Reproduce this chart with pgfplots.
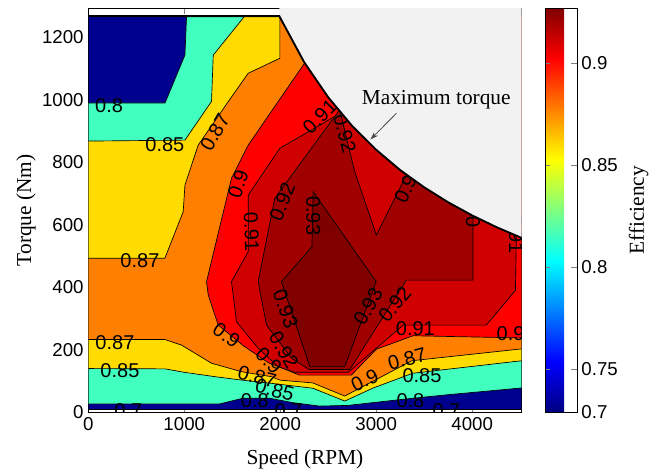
\documentclass[border=0pt]{standalone}
\usepackage{fontspec}
\setmainfont{Liberation Serif}
\newfontfamily\arial{Liberation Sans}
\usepackage{pgfplots}
\pgfplotsset{compat=1.18}
\usetikzlibrary{arrows.meta}

\definecolor{cnavy}{RGB}{0,0,143}
\definecolor{caqua}{RGB}{64,255,191}
\definecolor{cyel}{RGB}{255,219,0}
\definecolor{corg}{RGB}{255,128,0}
\definecolor{cred}{RGB}{255,0,0}
\definecolor{cred2}{RGB}{208,0,0}
\definecolor{cred3}{RGB}{160,0,0}
\definecolor{cred4}{RGB}{128,0,0}
\definecolor{cgray}{RGB}{242,242,242}

\tikzset{cl/.style={font=\arial\fontsize{15}{15}\selectfont, inner sep=0pt}}
\pgfplotsset{reg/.style={draw=black, line width=0.5pt, mark=none, forget plot}}

\begin{document}
\begin{tikzpicture}
\useasboundingbox (-66.2pt,-46.3pt) rectangle (420.5pt,309.2pt);
\begin{axis}[
  at={(0,0)}, anchor=south west,
  scale only axis, width=325pt, height=303pt,
  xmin=0, xmax=4515, ymin=0, ymax=1293,
  xtick={0,1000,2000,3000,4000}, xticklabels={0,1000,2000,3000,4000},
  ytick={0,200,400,600,800,1000,1200}, yticklabels={0,200,400,600,800,1000,1200},
  tick label style={font=\arial\fontsize{14}{14}\selectfont},
  tick align=inside, major tick length=4pt,
  axis line style={line width=0.5pt},
  xlabel={Speed (RPM)}, ylabel={Torque (Nm)},
  xlabel style={font=\fontsize{16}{16}\selectfont, at={(axis description cs:0.5,-0.1156)}, anchor=center},
  ylabel style={font=\fontsize{16}{16}\selectfont, at={(axis description cs:-0.1437,0.5)}, anchor=center},
  colormap/jet,
  point meta min=0.729, point meta max=0.927,
  colorbar,
  colorbar style={
    at={(parent axis.north east)}, anchor=north west, xshift=9pt,
    scale only axis, width=23.8pt, height=303pt,
    ytick={0.729,0.75,0.8,0.85,0.9}, yticklabels={0.7,0.75,0.8,0.85,0.9},
    ytick pos=both, yticklabel pos=right,
    tick align=inside, major tick length=4pt,
    yticklabel style={font=\arial\fontsize{14}{14}\selectfont},
    ylabel={Efficiency},
    ylabel style={font=\fontsize{16}{16}\selectfont, at={(axis description cs:2.95,0.5)}, anchor=center},
  },
]
% < 0.8 background
\addplot[reg, fill=cnavy] coordinates {(0,10) (4515,10) (4515,1268) (0,1268) (0,10)};
% >= 0.80
\addplot[reg, fill=caqua] coordinates {(0,27) (1370,27) (1610,45) (1890,45) (2130,31) (2410,20) (2700,22) (2965,31) (3380,45) (3735,56) (4515,78) (4515,1268) (1024,1268) (1007,1143) (800,990) (0,990) (0,27)};
% >= 0.85
\addplot[reg, fill=cyel] coordinates {(0,140) (800,139) (1000,128) (1320,114) (1600,103) (1900,93) (2340,77) (2672,36) (2970,78) (3380,125) (4515,165) (4515,1268) (1630,1268) (1302,1143) (1284,995) (1007,871) (0,868) (0,140)};
% >= 0.87
\addplot[reg, fill=corg] coordinates {(0,233) (798,233) (972,215) (1284,157) (1597,130) (1909,114) (1996,103) (2340,94) (2672,52) (3000,105) (3370,165) (4515,203) (4515,1268) (1996,1268) (1996,1133) (1666,1085) (1458,994) (1145,855) (1007,727) (989,642) (798,493) (0,493) (0,233)};
% >= 0.90
\addplot[reg, fill=cred] coordinates {(2255,1118) (1666,855) (1492,749) (1232,418) (1250,375) (1354,279) (1620,212) (1880,158) (2050,138) (2200,119) (2740,119) (3002,202) (3384,245) (4515,238) (4515,1268) (2255,1268) (2255,1118)};
% >= 0.91
\addplot[reg, fill=cred2] coordinates {(2630,958) (1996,845) (1666,695) (1666,514) (1492,418) (1544,290) (1770,205) (1978,146) (2150,128) (2710,128) (3280,279) (4147,279) (4450,390) (4460,565) (4460,1268) (2630,1268) (2630,958)};
% >= 0.92
\addplot[reg, fill=cred3] coordinates {(2612,965) (1943,685) (1770,418) (1857,279) (2117,173) (2300,137) (2725,137) (3314,423) (4008,423) (4008,1268) (3320,1268) (3314,759) (3002,567) (2776,770) (2724,834) (2625,962) (2612,965)};
% >= 0.93
\addplot[reg, fill=cred4] coordinates {(2013,418) (2330,530) (2343,706) (3000,418) (2672,146) (2308,146) (2013,418)};

% contour labels
\node[cl] at (axis cs:217,981) {0.8};
\node[cl] at (axis cs:798,858) {0.85};
\node[cl, rotate=60] at (axis cs:1319,896) {0.87};
\node[cl, rotate=72] at (axis cs:1562,730) {0.9};
\node[cl, rotate=68] at (axis cs:2020,674) {0.92};
\node[cl, rotate=-88] at (axis cs:1701,578) {0.91};
\node[cl] at (axis cs:538,485) {0.87};
\node[cl, rotate=-70] at (axis cs:2055,331) {0.93};
\node[cl, rotate=-35] at (axis cs:1440,247) {0.9};
\node[cl, rotate=-60] at (axis cs:2037,199) {0.92};
\node[cl] at (axis cs:278,224) {0.87};
\node[cl] at (axis cs:330,133) {0.85};
\node[cl] at (axis cs:417,5) {0.7};
\node[cl] at (axis cs:1735,37) {0.8};
\node[cl] at (axis cs:2087,4) {0.7};
\node[cl, rotate=-45] at (axis cs:1880,165) {0.9};
\node[cl, rotate=-15] at (axis cs:1760,114) {0.87};
\node[cl, rotate=-15] at (axis cs:1943,71) {0.85};
\node[cl, rotate=45] at (axis cs:2412,946) {0.91};
\node[cl, rotate=-75] at (axis cs:2672,893) {0.92};
\node[cl, rotate=-90] at (axis cs:2343,629) {0.93};
\node[cl, rotate=65] at (axis cs:3330,730) {0.92};
\node[cl, rotate=90] at (axis cs:4008,653) {0.92};
\node[cl, rotate=-90] at (axis cs:4455,571) {0.91};
\node[cl, rotate=60] at (axis cs:2915,338) {0.93};
\node[cl, rotate=50] at (axis cs:3193,346) {0.92};
\node[cl] at (axis cs:3408,269) {0.91};
\node[cl] at (axis cs:4400,252) {0.9};
\node[cl, rotate=25] at (axis cs:2880,103) {0.9};
\node[cl, rotate=15] at (axis cs:3321,170) {0.87};
\node[cl] at (axis cs:3477,119) {0.85};
\node[cl] at (axis cs:3356,37) {0.8};
\node[cl] at (axis cs:3731,5) {0.7};

% region above maximum torque
\addplot[fill=cgray, draw=none, mark=none, forget plot] coordinates {(1990,1268) (2250,1120) (2500,1008) (2750,916) (3000,840) (3250,775) (3500,720) (3750,672) (4000,630) (4250,593) (4515,558) (4515,1400) (1990,1400) (1990,1268)};
% maximum torque curve
\addplot[black, line width=1.4pt, mark=none, forget plot] coordinates {(0,1268) (1990,1268) (2250,1120) (2500,1008) (2750,916) (3000,840) (3250,775) (3500,720) (3750,672) (4000,630) (4250,593) (4515,558)};

\node[font=\fontsize{16}{16}\selectfont] at (axis cs:3625,999) {Maximum torque};
\draw[color={rgb,255:red,70;green,70;blue,70}, line width=0.6pt, -{Stealth[length=6pt,width=4pt]}] (axis cs:3210,957) -- (axis cs:2940,873);
\end{axis}
\end{tikzpicture}
\end{document}
